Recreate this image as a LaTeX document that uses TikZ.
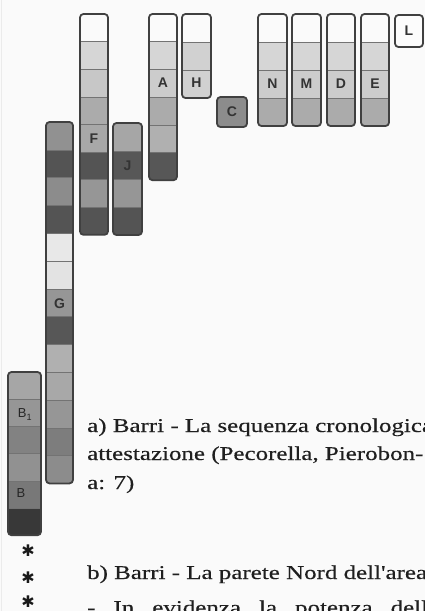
\documentclass[tikz,border=0pt]{standalone}
\usepackage{fontspec}
\setmainfont{Liberation Serif}
\newfontfamily\labfont{Liberation Sans}
\newfontfamily\capfont[FakeStretch=1.28,FakeBold=0.4]{Liberation Serif}
\newfontfamily\symfont{DejaVu Sans}
\tikzset{
  colbox/.style={draw=black!75, line width=1.8pt, rounded corners=3.5pt, inner sep=0pt, outer sep=0pt, fill=none},
  divider/.style={draw=black!55, line width=0.5pt},
  lab/.style={font=\labfont\bfseries\fontsize{14}{14}\selectfont, text=black!80, inner sep=0pt},
  blab/.style={font=\labfont\fontsize{13}{13}\selectfont, text=black!85, inner sep=0pt},
  captxt/.style={font=\capfont\fontsize{19.5}{19.5}\selectfont, text=black!88, anchor=base west, inner sep=0pt},
  star/.style={font=\symfont\bfseries\fontsize{16}{16}\selectfont, text=black!90, inner sep=0pt},
}
\newcommand\stratcol[7]{% name, x, ytop, w, h, n, colors
  \begin{scope}
    \clip[rounded corners=3.5pt] (#2,#3) rectangle ++(#4,{#5*#6});
    \foreach \c [count=\i from 0] in {#7} {
      \fill[\c] (#2,{#3+\i*#5}) rectangle ++(#4,#5);
      \draw[divider] (#2,{#3+\i*#5}) -- ++(#4,0);
    }
  \end{scope}
  \node[colbox, minimum width=#4pt, minimum height={#5*#6*1pt}, anchor=north west] (#1) at (#2,#3) {};
}
\begin{document}
\begin{tikzpicture}[x=1pt,y=-1pt]
\useasboundingbox (0,0) rectangle (425,611);
\clip (0,0) rectangle (425,611);
\fill[black!2] (0,0) rectangle (425,611);
\draw[black!8, line width=0.8pt] (1,0) -- (1,611);

% columns
\stratcol{F}{80}{14}{28}{27.6}{8}{black!2,black!16,black!22,black!33,black!34,black!67,black!41,black!67}
\stratcol{G}{46}{122}{27}{27.8}{13}{black!43,black!67,black!45,black!67,black!9,black!11,black!41,black!66,black!31,black!34,black!41,black!51,black!45}
\stratcol{J}{113}{123}{29}{28}{4}{black!35,black!66,black!41,black!67}
\stratcol{A}{149}{14}{28}{27.7}{6}{black!2,black!16,black!20,black!33,black!31,black!66}
\stratcol{H}{182}{14}{29}{28}{3}{black!2,black!18,black!18}
\stratcol{C}{217}{97}{30}{30}{1}{black!45}
\stratcol{N}{258}{14}{29}{28}{4}{black!2,black!16,black!20,black!33}
\stratcol{M}{292}{14}{29}{28}{4}{black!2,black!16,black!20,black!33}
\stratcol{D}{327}{14}{28}{28}{4}{black!2,black!16,black!20,black!33}
\stratcol{E}{361}{14}{28}{28}{4}{black!2,black!16,black!20,black!33}
\stratcol{L}{395}{15}{28}{32}{1}{black!1}
\stratcol{B}{8}{372}{33}{27.2}{6}{black!35,black!41,black!49,black!43,black!53,black!78}

% labels
\node[lab] (Flab) at (94,139) {F};
\node[lab] (Glab) at (59.5,303.5) {G};
\node[lab] (Jlab) at (127.5,166) {J};
\node[lab] (Alab) at (163,83) {A};
\node[lab] (Hlab) at (196.5,83) {H};
\node[lab] (Clab) at (232,112) {C};
\node[lab] (Nlab) at (272.5,84) {N};
\node[lab] (Mlab) at (306.5,84) {M};
\node[lab] (Dlab) at (341,84) {D};
\node[lab] (Elab) at (375,84) {E};
\node[lab] (Llab) at (409,31) {L};
\node[blab] (B1lab) at (25,414.5) {B\textsubscript{1}};
\node[blab] (Blab) at (21,493) {B};

% asterisks
\node[star] (s1) at (28,551) {✱};
\node[star] (s2) at (28,578) {✱};
\node[star] (s3) at (28,602) {✱};

% caption text
\node[captxt] (t1) at (87,432) {a) Barri - La sequenza cronologica};
\node[captxt] (t2) at (87,460) {attestazione (Pecorella, Pierobon-};
\node[captxt] (t3) at (87,489) {a: 7)};
\node[captxt] (t4) at (87,579) {b) Barri - La parete Nord dell'area};
\node[captxt] (t5) at (87,614) {\makebox[352pt][s]{- In evidenza la potenza della}};
\end{tikzpicture}
\end{document}
